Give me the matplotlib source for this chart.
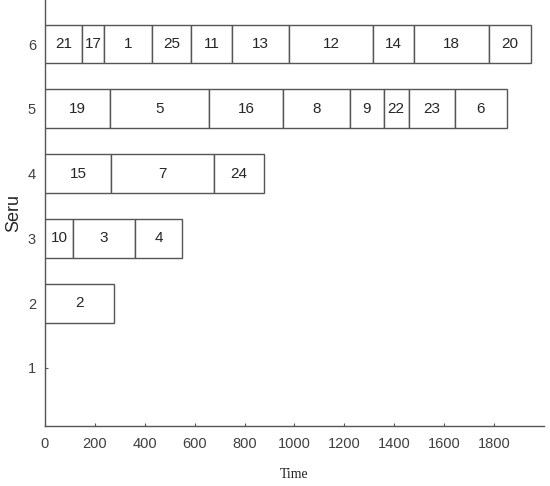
import matplotlib
matplotlib.use("Agg")
import matplotlib.pyplot as plt
import numpy as np

# Data: each seru row has a sequence of jobs with processing durations
seru_rows = [6, 5, 4, 3, 2]
jobs_6 = ["21", "17", "1", "25", "11", "13", "12", "14", "18", "20"]
dur_6 = [147, 90, 193, 157, 163, 227, 339, 164, 300, 169]
jobs_5 = ["19", "5", "16", "8", "9", "22", "23", "6"]
dur_5 = [261, 397, 295, 271, 134, 100, 185, 208]
jobs_4 = ["15", "7", "24"]
dur_4 = [266, 410, 203]
jobs_3 = ["10", "3", "4"]
dur_3 = [112, 249, 188]
jobs_2 = ["2"]
dur_2 = [277]

all_jobs = [jobs_6, jobs_5, jobs_4, jobs_3, jobs_2]
all_durs = [dur_6, dur_5, dur_4, dur_3, dur_2]

x_ticks = [0, 200, 400, 600, 800, 1000, 1200, 1400, 1600, 1800]
y_ticks = [1, 2, 3, 4, 5, 6]

fig = plt.figure(figsize=(5.5, 4.86), dpi=100)
ax = fig.add_axes([0.0818, 0.1235, 0.907, 0.8765])

edge = "#555555"
txt = "#262626"
for row, jobs, durs in zip(seru_rows, all_jobs, all_durs):
    durs = np.array(durs, dtype=float)
    starts = np.concatenate([[0], np.cumsum(durs)[:-1]])
    ax.barh([row] * len(durs), durs, left=starts, height=0.6,
            color="white", edgecolor=edge, linewidth=1.0, zorder=3)
    for s, d, j in zip(starts, durs, jobs):
        ax.text(s + d / 2, row, j, ha="center", va="center",
                fontsize=11, color=txt, family="Liberation Sans", zorder=4)

ax.set_xlim(0, 2000)
ax.set_ylim(0.105, 6.68)
ax.set_xticks(x_ticks)
ax.set_yticks(y_ticks)
ax.tick_params(direction="in", length=2.5, width=0.8, colors="#555555",
               labelsize=10.5, labelcolor="#404040")
ax.tick_params(axis="x", pad=8)
ax.tick_params(axis="y", pad=6.5)
for lab in ax.get_xticklabels() + ax.get_yticklabels():
    lab.set_family("Liberation Sans")
for sp in ["top", "right"]:
    ax.spines[sp].set_visible(False)
for sp in ["left", "bottom"]:
    ax.spines[sp].set_color("#555555")
    ax.spines[sp].set_linewidth(1.0)

ax.set_xlabel("Time", family="Liberation Serif", fontsize=10, color="#222222", labelpad=12)
ax.set_ylabel("Seru", family="Liberation Sans", fontsize=13, color="#262626", labelpad=4)

fig.savefig("out.png", dpi=100)
